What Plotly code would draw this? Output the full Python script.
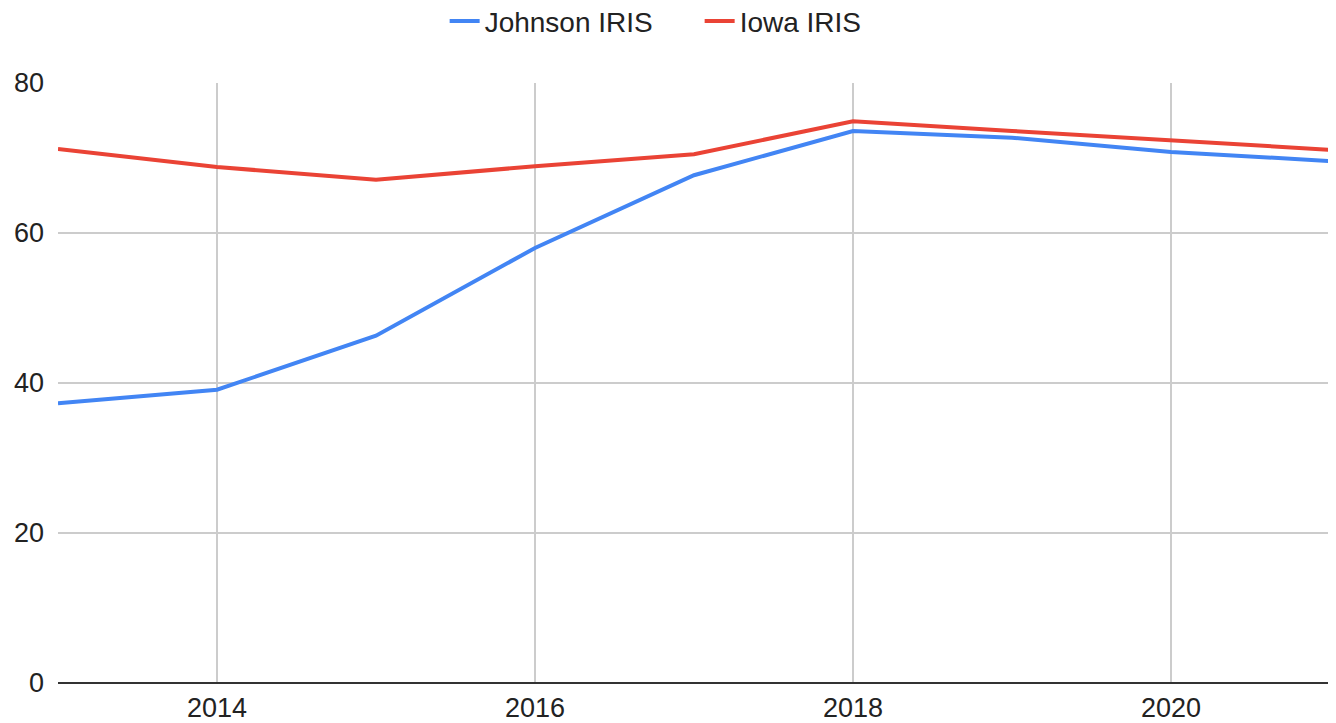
import plotly.graph_objects as go

years = [2013, 2014, 2015, 2016, 2017, 2018, 2019, 2020, 2021]
johnson = [37.3, 39.1, 46.3, 58.0, 67.7, 73.6, 72.7, 70.8, 69.6]
iowa = [71.2, 68.8, 67.1, 68.9, 70.5, 74.9, 73.6, 72.4, 71.1]

FONT = "Liberation Sans, Arial, sans-serif"

fig = go.Figure()
fig.add_trace(go.Scatter(x=years, y=johnson, mode="lines", name="Johnson IRIS",
                         line=dict(color="#4285F4", width=4)))
fig.add_trace(go.Scatter(x=years, y=iowa, mode="lines", name="Iowa IRIS",
                         line=dict(color="#EA4335", width=4)))

fig.update_layout(
    width=1336, height=723,
    margin=dict(l=50, r=14, t=75, b=48, autoexpand=False),
    paper_bgcolor="white", plot_bgcolor="white",
    font=dict(family=FONT, color="#222222"),
    legend=dict(orientation="h", xref="container", x=0.5177, xanchor="center",
                yref="paper", y=1.103, yanchor="middle",
                font=dict(size=28, color="#222222", family=FONT),
                itemwidth=30, entrywidth=210, entrywidthmode="pixels"),
    showlegend=True,
)
fig.update_xaxes(range=[2013, 2021], dtick=2, tick0=2014, showgrid=True,
                 gridcolor="#cccccc", gridwidth=2, zeroline=False, showline=False,
                 ticks="", tickfont=dict(size=27, color="#222222", family=FONT),
                 ticklabelstandoff=6, automargin=False)
fig.update_yaxes(range=[0, 80], dtick=20, showgrid=True, gridcolor="#cccccc",
                 gridwidth=2, zeroline=True, zerolinecolor="#333333", zerolinewidth=2,
                 showline=False, ticks="", tickfont=dict(size=27, color="#222222", family=FONT),
                 ticklabelstandoff=13, automargin=False)

fig.write_html("out.html")
